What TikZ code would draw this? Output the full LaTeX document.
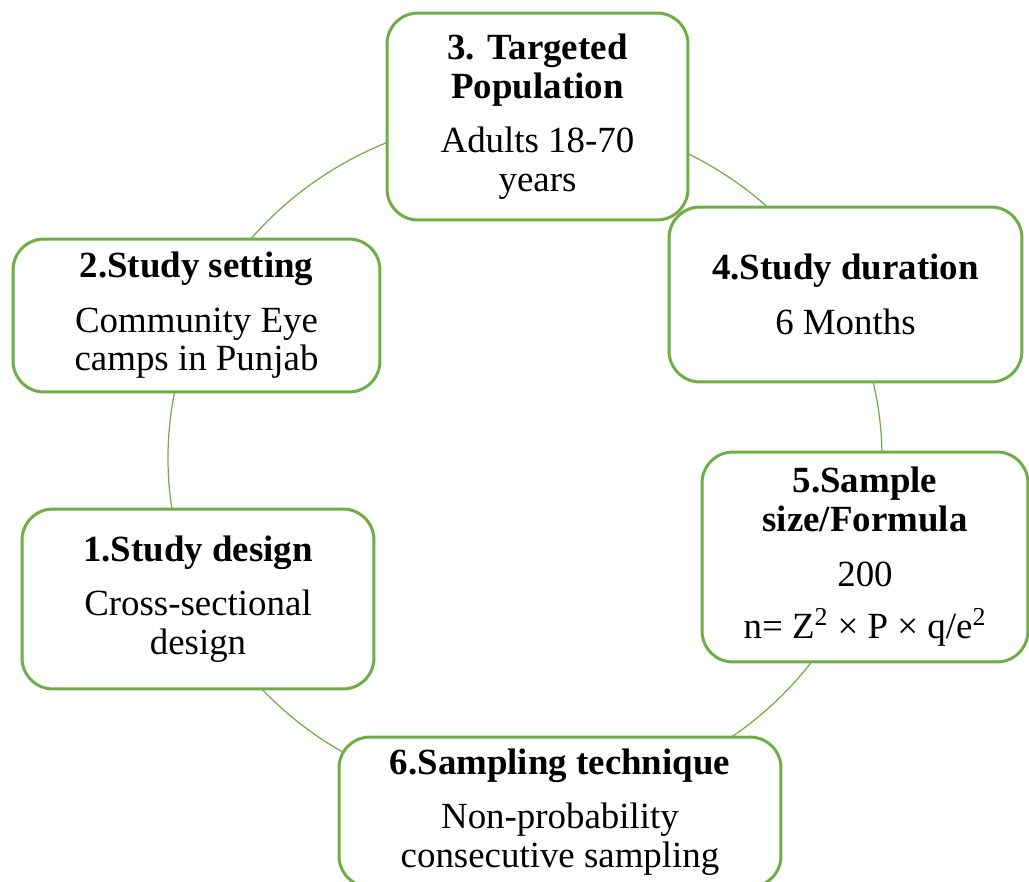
\documentclass[tikz,border=0pt]{standalone}
\usepackage{fontspec}
\setmainfont{Liberation Serif}
\usepackage{xcolor}
\definecolor{cyclegreen}{HTML}{70AD47}

\begin{document}
\begin{tikzpicture}[x=0.02cm, y=-0.02cm,
    stagebox/.style={draw=cyclegreen, line width=1.7pt, fill=white,
        rounded corners=0.62cm, align=center, inner sep=0pt,
        font=\fontsize{21}{22}\selectfont},
    ring/.style={draw=cyclegreen, line width=0.7pt}]
    \useasboundingbox (0,0) rectangle (1029,882);

    % Ring behind the six stages
    \coordinate (hub) at (525,458);
    \draw[ring] (hub) ellipse [x radius=357, y radius=342];

    % Stage 1 - design
    \node[stagebox, minimum width=7.04cm, minimum height=3.6cm] (design) at (198,599)
        {\textbf{1.Study design}\\[9pt]Cross-sectional\\design};

    % Stage 2 - setting
    \node[stagebox, minimum width=7.34cm, minimum height=3.06cm] (setting) at (196.5,315.5)
        {\textbf{2.Study setting}\\[9pt]Community Eye\\camps in Punjab};

    % Stage 3 - population
    \node[stagebox, minimum width=6.02cm, minimum height=4.14cm] (population) at (537.5,116.5)
        {\textbf{3. Targeted}\\\textbf{Population}\\[9pt]Adults 18-70\\years};

    % Stage 4 - duration
    \node[stagebox, minimum width=7.06cm, minimum height=3.5cm] (duration) at (845.5,294.5)
        {\textbf{4.Study duration}\\[9pt]6 Months};

    % Stage 5 - sample size
    \node[stagebox, minimum width=6.52cm, minimum height=4.2cm] (sample) at (865,557)
        {\textbf{5.Sample}\\\textbf{size/Formula}\\[9pt]200\\[8pt]n= Z\textsuperscript{2} × P × q/e\textsuperscript{2}};

    % Stage 6 - sampling technique (cut at the bottom)
    \node[stagebox, minimum width=8.84cm, minimum height=3cm] (technique) at (560,812)
        {\textbf{6.Sampling technique}\\[9pt]Non-probability\\consecutive sampling};

\end{tikzpicture}
\end{document}
